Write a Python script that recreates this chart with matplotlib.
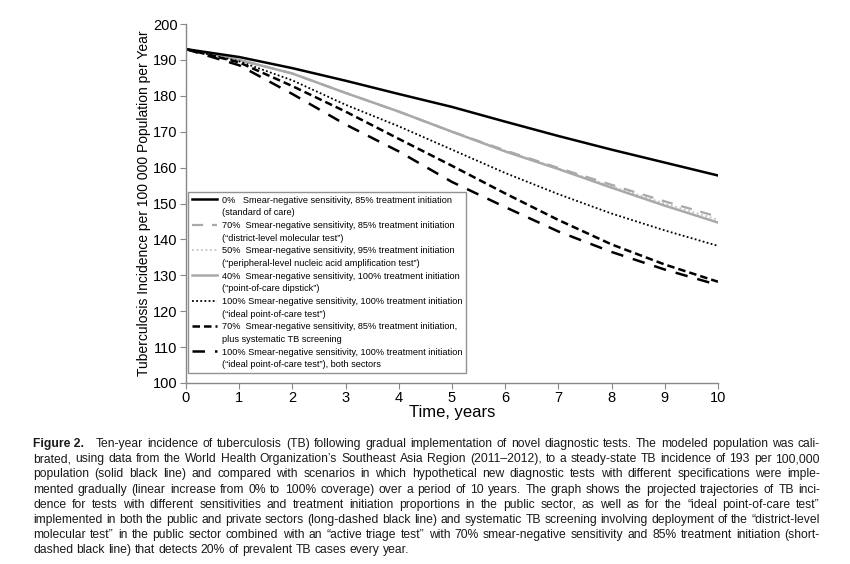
import matplotlib
matplotlib.use("Agg")
import matplotlib.pyplot as plt
from matplotlib import font_manager
from matplotlib.lines import Line2D

years = [0, 1, 2, 3, 4, 5, 6, 7, 8, 9, 10]
soc = [193, 190.8, 187.7, 184.2, 180.5, 176.9, 172.8, 168.8, 165.0, 161.4, 157.8]
district = [193, 190.0, 186.2, 180.8, 175.6, 170.0, 164.8, 159.9, 155.2, 150.6, 146.3]
peripheral = [193, 190.0, 186.2, 180.8, 175.6, 170.0, 164.7, 159.7, 154.8, 150.0, 145.5]
dipstick = [193, 190.0, 186.2, 180.8, 175.6, 170.0, 164.5, 159.6, 154.4, 149.4, 144.7]
ideal = [193, 189.6, 184.3, 177.5, 171.5, 165.0, 158.5, 152.6, 147.2, 142.5, 138.2]
screening = [193, 189.3, 182.7, 175.6, 168.0, 160.5, 152.8, 145.4, 138.6, 133.0, 128.2]
both = [193, 188.5, 180.5, 172.0, 164.5, 156.0, 149.0, 142.2, 136.5, 131.6, 127.3]

labels = [
    ("0%   Smear-negative sensitivity, 85% treatment initiation", "(standard of care)"),
    ("70%  Smear-negative sensitivity, 85% treatment initiation", "(\u201cdistrict-level molecular test\u201d)"),
    ("50%  Smear-negative sensitivity, 95% treatment initiation", "(\u201cperipheral-level nucleic acid amplification test\u201d)"),
    ("40%  Smear-negative sensitivity, 100% treatment initiation", "(\u201cpoint-of-care dipstick\u201d)"),
    ("100% Smear-negative sensitivity, 100% treatment initiation", "(\u201cideal point-of-care test\u201d)"),
    ("70%  Smear-negative sensitivity, 85% treatment initiation,", "plus systematic TB screening"),
    ("100% Smear-negative sensitivity, 100% treatment initiation", "(\u201cideal point-of-care test\u201d), both sectors"),
]

caption_lines = [
    "Ten-year incidence of tuberculosis (TB) following gradual implementation of novel diagnostic tests. The modeled population was cali-",
    "brated, using data from the World Health Organization\u2019s Southeast Asia Region (2011\u20132012), to a steady-state TB incidence of 193 per 100,000",
    "population (solid black line) and compared with scenarios in which hypothetical new diagnostic tests with different specifications were imple-",
    "mented gradually (linear increase from 0% to 100% coverage) over a period of 10 years. The graph shows the projected trajectories of TB inci-",
    "dence for tests with different sensitivities and treatment initiation proportions in the public sector, as well as for the \u201cideal point-of-care test\u201d",
    "implemented in both the public and private sectors (long-dashed black line) and systematic TB screening involving deployment of the \u201cdistrict-level",
    "molecular test\u201d in the public sector combined with an \u201cactive triage test\u201d with 70% smear-negative sensitivity and 85% treatment initiation (short-",
    "dashed black line) that detects 20% of prevalent TB cases every year.",
]

names = {f.name for f in font_manager.fontManager.ttflist}
base_font = "Liberation Sans" if "Liberation Sans" in names else "DejaVu Sans"
if "Liberation Sans Narrow" in names:
    cap_font = "Liberation Sans Narrow"
else:
    cap_font = base_font

plt.rcParams["font.family"] = [base_font, "DejaVu Sans"]

W, H = 850, 564
fig = plt.figure(figsize=(W / 100, H / 100), dpi=100)
ax = fig.add_axes([186 / W, 1 - 383 / H, (718 - 186) / W, (383 - 24) / H])

grey = "#a9a9a9"
styles = [
    dict(color="black", lw=1.8, ls="-"),
    dict(color=grey, lw=1.6, ls=(0, (5, 4))),
    dict(color="#c4c4c4", lw=1.3, ls=(0, (1, 1.5))),
    dict(color=grey, lw=1.8, ls="-"),
    dict(color="black", lw=1.3, ls=(0, (1, 1.3))),
    dict(color="black", lw=1.8, ls=(0, (3, 1.6))),
    dict(color="black", lw=1.8, ls=(0, (5, 4))),
]
series = [soc, district, peripheral, dipstick, ideal, screening, both]
order = [2, 1, 3, 0, 4, 5, 6]
for i in order:
    ax.plot(years, series[i], **styles[i])

ax.set_xlim(0, 10)
ax.set_ylim(100, 200)
ax.set_xticks(range(0, 11))
ax.set_yticks(range(100, 201, 10))
for s in ["top", "right"]:
    ax.spines[s].set_visible(False)
for s in ["left", "bottom"]:
    ax.spines[s].set_color("#888888")
    ax.spines[s].set_linewidth(1.0)
ax.tick_params(axis="both", direction="out", length=4, width=0.8, color="#888888",
               labelsize=10.5, pad=2)
ax.set_xlabel("Time, years", fontsize=12, labelpad=0)
ax.set_ylabel("Tuberculosis Incidence per 100 000 Population per Year", fontsize=10, labelpad=1.5)

handles, leg_labels = [], []
for st, (l1, l2) in zip(styles, labels):
    handles.append(Line2D([], [], **st))
    leg_labels.append(l1)
    handles.append(Line2D([], [], color="none"))
    leg_labels.append(l2)
leg = ax.legend(handles, leg_labels, loc="lower left", bbox_to_anchor=(0.004, 0.028),
                fontsize=6.6, frameon=True, fancybox=False, edgecolor="#777777",
                handlelength=2.8, handletextpad=0.5, labelspacing=0.4,
                borderpad=0.4, borderaxespad=0)
leg.get_frame().set_linewidth(1.0)

# caption, justified word by word
renderer = fig.canvas.get_renderer()
x0, x1 = 33, 820
y_first = 443
dy = 15.2


def px(x, y):
    return x / W, 1 - y / H


def measure(s, size, weight="normal"):
    t = fig.text(0, 0, s, fontsize=size, family=[cap_font, "DejaVu Sans"], weight=weight)
    w = t.get_window_extent(renderer).width
    t.remove()
    return w


cap_size = 9.6
while cap_size > 6:
    ok = True
    for li, line in enumerate(caption_lines[:-1]):
        s = ("Figure 2.   " if li == 0 else "") + line
        if measure(s, cap_size) > (x1 - x0):
            ok = False
            break
    if ok:
        break
    cap_size -= 0.1

cap_kw = dict(fontsize=cap_size, family=[cap_font, "DejaVu Sans"],
              color="#1a1a1a", va="baseline", ha="left")

for li, line in enumerate(caption_lines):
    y = round(y_first + li * dy + 4)
    words = line.split(" ")
    texts = []
    if li == 0:
        t = fig.text(*px(x0, y), "Figure 2.", weight="bold", **cap_kw)
        texts.append((t, 8))
    for w in words:
        t = fig.text(*px(0, y), w, **cap_kw)
        texts.append((t, 0))
    widths = [t.get_window_extent(renderer).width for t, _ in texts]
    extra = sum(e for _, e in texts)
    n_gaps = len(texts) - 1
    if li < len(caption_lines) - 1:
        gap = (x1 - x0 - sum(widths) - extra) / n_gaps
    else:
        gap = measure("a a", cap_size) - measure("aa", cap_size)
    x = x0
    for (t, e), w in zip(texts, widths):
        t.set_position(px(x, y))
        x += w + gap + e

fig.savefig("out.png", dpi=100)
